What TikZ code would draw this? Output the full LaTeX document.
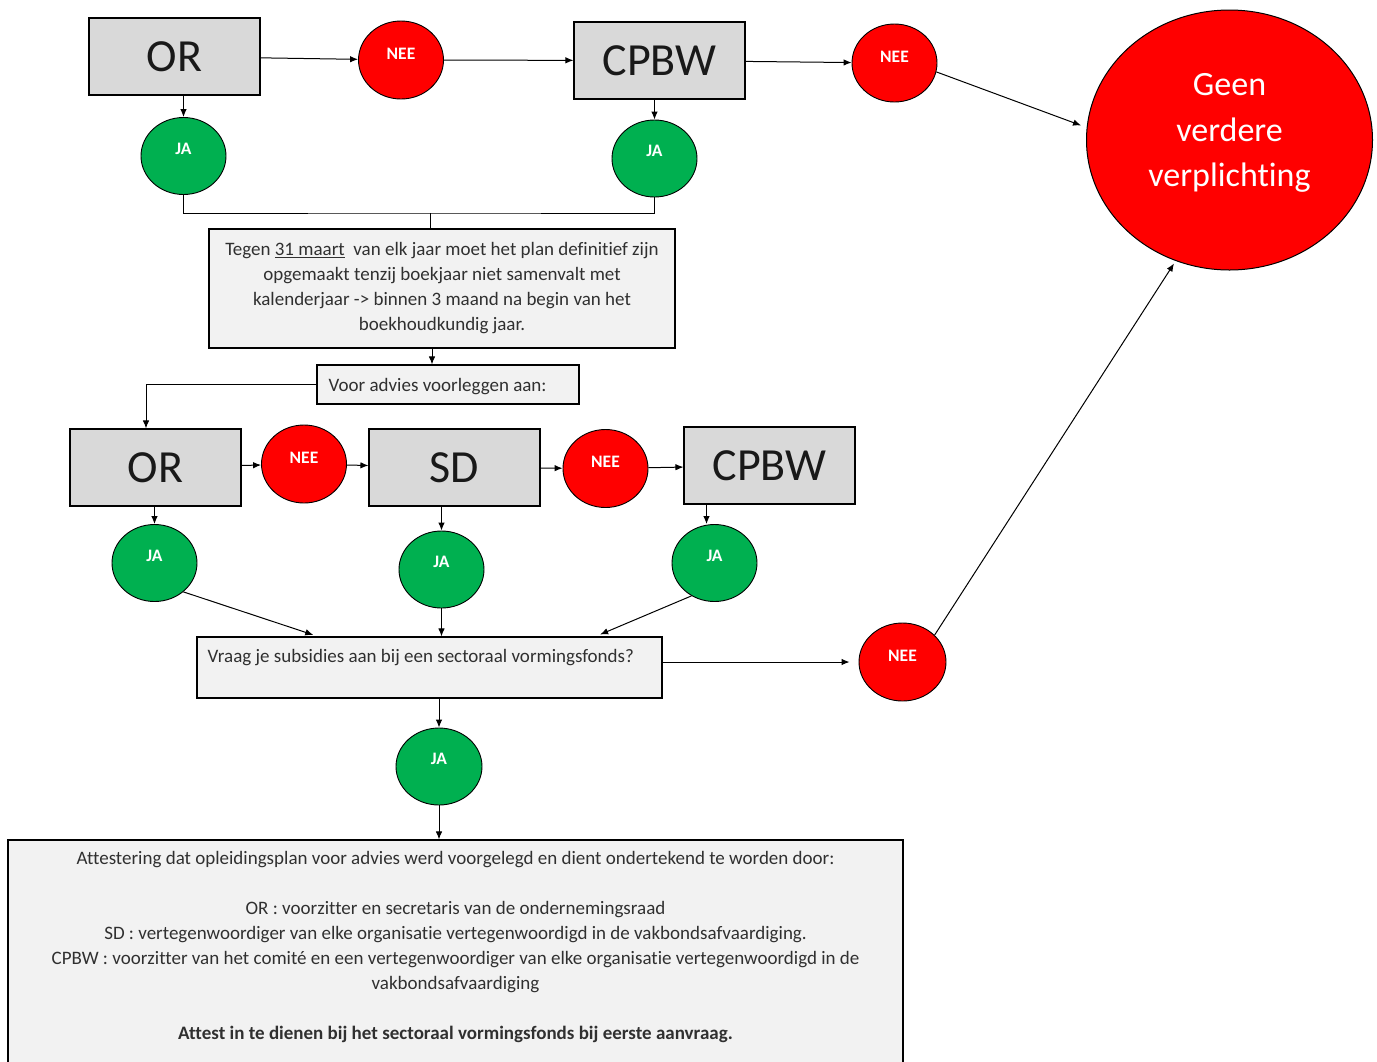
\documentclass[tikz,border=0pt]{standalone}
\usepackage{fontspec}
\setmainfont{Carlito}[Ligatures=CommonOff]
\usetikzlibrary{arrows.meta,shapes.geometric}
\definecolor{boxgray}{HTML}{D9D9D9}
\definecolor{lightbox}{HTML}{F2F2F2}
\definecolor{jagreen}{HTML}{00B050}
\definecolor{neered}{HTML}{FF0000}
\definecolor{txtgray}{HTML}{303030}
\begin{document}
\begin{tikzpicture}[x=1pt,y=-1pt,
  graybox/.style={draw, line width=1.1pt, fill=boxgray, minimum width=171pt, minimum height=77pt, inner sep=0pt, font=\fontsize{46}{50}\selectfont, text=black!90},
  txtbox/.style={draw, line width=1.1pt, fill=lightbox, inner sep=0pt, font=\fontsize{19}{25}\selectfont, text=txtgray},
  nee/.style={ellipse, draw, line width=0.9pt, fill=neered, minimum width=85pt, minimum height=78pt, inner sep=0pt, text=white, font=\bfseries\fontsize{17.5}{18}\selectfont},
  ja/.style={ellipse, draw, line width=0.9pt, fill=jagreen, minimum width=85pt, minimum height=77pt, inner sep=0pt, text=white, font=\bfseries\fontsize{17.5}{18}\selectfont},
  arr/.style={line width=1pt, -{Latex[length=8pt,width=6.5pt]}},
  ln/.style={line width=1pt}
]
\useasboundingbox (0,0) rectangle (1377,1061);
\clip (0,0) rectangle (1377,1061);

% top row
\node[graybox] (or1) at (174.5,56.5) {OR};
\node[nee] (nee1) at (401,60) {\smash{\raisebox{1pt}{NEE}}};
\node[graybox] (cpbw1) at (659.5,60.5) {CPBW};
\node[nee] (nee2) at (894.5,63) {\smash{\raisebox{1pt}{NEE}}};
\node[ellipse, draw, line width=1pt, fill=neered, minimum width=286pt, minimum height=260pt, inner sep=0pt,
  label={[text=white, font=\fontsize{34}{45.5}\selectfont, align=center, yshift=7pt]center:Geen\\verdere\\verplichting}] (geen) at (1229.5,140) {};
\node[ja] (ja1) at (183.5,156) {\smash{\raisebox{2pt}{JA}}};
\node[ja] (ja2) at (654.5,158.5) {\smash{\raisebox{2pt}{JA}}};

% first text box
\node[txtbox, minimum width=466pt, minimum height=119pt, align=center] (box1) at (442,288.5)
  {\raisebox{-2pt}{\parbox{450pt}{\centering
   Tegen \underline{31 maart}\ \ van elk jaar moet het plan definitief zijn\\
   opgemaakt tenzij boekjaar niet samenvalt met\\
   kalenderjaar -> binnen 3 maand na begin van het\\
   boekhoudkundig jaar.}}};
\node[txtbox, minimum width=262pt, minimum height=39pt,
  label={[anchor=west, inner sep=0pt, xshift=12pt, yshift=-2pt, font=\fontsize{19}{25}\selectfont, text=txtgray]west:Voor advies voorleggen aan:}] (box2) at (448,384.5) {};

% second row
\node[graybox] (or2) at (155.5,467.5) {OR};
\node[nee] (nee3) at (304,464) {\smash{\raisebox{1pt}{NEE}}};
\node[graybox] (sd) at (454.5,467.5) {SD};
\node[nee] (nee4) at (605.5,468.5) {\smash{\raisebox{1pt}{NEE}}};
\node[graybox] (cpbw2) at (769.5,465.5) {CPBW};
\node[ja] (ja3) at (154.5,563) {\smash{\raisebox{2pt}{JA}}};
\node[ja] (ja4) at (441.5,569.5) {\smash{\raisebox{2pt}{JA}}};
\node[ja] (ja5) at (714.5,563) {\smash{\raisebox{2pt}{JA}}};

\node[txtbox, minimum width=465pt, minimum height=61pt,
  label={[anchor=north west, inner sep=0pt, xshift=11pt, yshift=-13pt, font=\fontsize{19}{25}\selectfont, text=txtgray]north west:Vraag je subsidies aan bij een sectoraal vormingsfonds?}] (box3) at (429.5,667.5) {};
\node[nee, minimum width=87pt] (nee5) at (902.5,662) {\smash{\raisebox{1pt}{NEE}}};
\node[ja, minimum width=86pt] (ja6) at (439,766.5) {\smash{\raisebox{2pt}{JA}}};

\node[txtbox, minimum width=895pt, minimum height=250pt,
  label={[anchor=north, inner sep=0pt, yshift=-12pt, font=\fontsize{19}{25}\selectfont, text=txtgray, align=center]north:%
  Attestering dat opleidingsplan voor advies werd voorgelegd en dient ondertekend te worden door:\\[25pt]
  OR : voorzitter en secretaris van de ondernemingsraad\\
  SD : vertegenwoordiger van elke organisatie vertegenwoordigd in de vakbondsafvaardiging.\\
  CPBW : voorzitter van het comité en een vertegenwoordiger van elke organisatie vertegenwoordigd in de\\
  vakbondsafvaardiging\\[25pt]
  \textbf{Attest in te dienen bij het sectoraal vormingsfonds bij eerste aanvraag.}}] (box4) at (455.5,965) {};

% connectors top
\draw[arr] (or1) -- (nee1);
\draw[arr] (nee1) -- (cpbw1);
\draw[arr] (cpbw1) -- (nee2);
\draw[arr, shorten >=6pt] (nee2.-12) -- (geen.175);
\draw[arr] (or1.south -| ja1.north) -- (ja1.north);
\draw[arr] (cpbw1.south -| ja2.north) -- (ja2.north);
\coordinate (m) at (430,213);
\draw[ln] (ja1.south) |- (m) -| (ja2.south);
\draw[ln] (m) -- (m |- box1.north);
\draw[arr] ([xshift=-10pt]box1.south) -- ([xshift=-10pt]box1.south |- box2.north);
\draw[arr] (box2.west) -| ([xshift=-9.5pt]or2.north);

% second row connectors
\draw[arr] (or2) -- (nee3);
\draw[arr] (nee3) -- (sd);
\draw[arr] (sd) -- (nee4);
\draw[arr] (nee4) -- (cpbw2);
\draw[arr] (or2.south -| ja3.north) -- (ja3.north);
\draw[arr] (ja4.north |- sd.south) -- (ja4.north);
\draw[arr] ([xshift=-8pt]ja5.north |- cpbw2.south) -- ([xshift=-8pt]ja5.north);

\draw[arr, shorten >=5pt] (ja3.-45) -- ([xshift=-111.5pt]box3.north);
\draw[arr] (ja4.south) -- (ja4.south |- box3.north);
\draw[arr, shorten >=5pt] (ja5.235) -- ([xshift=166pt]box3.north);
\draw[arr, shorten >=9pt] (box3.east |- nee5.west) -- (nee5.west);
\draw[arr, shorten >=3pt] (nee5.40) -- (geen.246);
\draw[arr] (ja6.north |- box3.south) -- (ja6.north);
\draw[arr] (ja6.south) -- (ja6.south |- box4.north);
\end{tikzpicture}
\end{document}
